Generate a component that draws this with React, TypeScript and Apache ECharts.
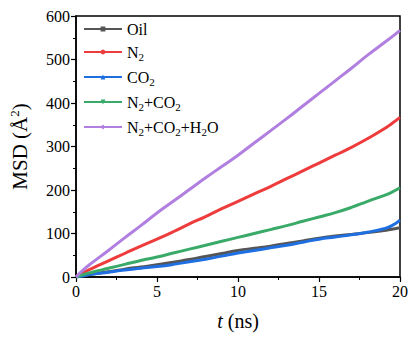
import React, { useEffect, useRef } from "react";
import * as echarts from "echarts";

const times = [0, 0.5, 1, 2, 3, 4, 5, 6, 7, 8, 9, 10, 11, 12, 13, 14, 15, 16, 17, 18, 19, 19.5, 20];
const oil = [0, 4, 7, 12, 18, 23, 28, 34, 40, 47, 54, 61, 66, 71, 77, 83, 89, 94, 98, 102, 107, 110, 113];
const n2 = [0, 11, 20, 37, 54, 71, 87, 104, 122, 139, 157, 174, 191, 208, 226, 244, 262, 280, 298, 318, 340, 353, 367];
const co2 = [0, 3, 6, 11, 16, 20, 24, 29, 35, 41, 48, 55, 61, 67, 73, 80, 87, 92, 97, 103, 111, 118, 131];
const n2co2 = [0, 6, 11, 20, 29, 38, 46, 55, 64, 73, 82, 91, 100, 109, 118, 128, 138, 148, 160, 174, 187, 195, 205];
const n2co2h2o = [0, 18, 33, 61, 90, 118, 147, 174, 201, 228, 254, 280, 308, 336, 364, 393, 422, 451, 480, 510, 538, 552, 567];

const seriesNames = ["Oil", "N2", "CO2", "N2+CO2", "N2+CO2+H2O"];
const legendLabels = ["Oil", "N{s|2}", "CO{s|2}", "N{s|2}+CO{s|2}", "N{s|2}+CO{s|2}+H{s|2}O"];
const colors = ["#555555", "#ee3b3b", "#1f6fe0", "#3aaa68", "#b07fe0"];
const symbols = ["rect", "circle", "triangle", "path://M0,0 L10,0 L5,10 Z", "diamond"];
const xTicks = [0, 5, 10, 15, 20];
const yTicks = [0, 100, 200, 300, 400, 500, 600];

const FONT = "Liberation Serif";

export default function App() {
  const ref = useRef<HTMLDivElement>(null);
  useEffect(() => {
    const chart = echarts.init(ref.current!, null, { renderer: "svg" });
    const allData = [oil, n2, co2, n2co2, n2co2h2o];
    chart.setOption({
      animation: false,
      backgroundColor: "#ffffff",
      textStyle: { fontFamily: FONT },
      grid: { left: 75, right: 18, top: 16, bottom: 67, show: true, borderColor: "#000", borderWidth: 1.5 },
      legend: {
        orient: "vertical",
        left: 78,
        top: 16,
        itemWidth: 38,
        itemHeight: 6,
        itemGap: 7,
        data: seriesNames,
        formatter: (name: string) => legendLabels[seriesNames.indexOf(name)],
        textStyle: {
          fontFamily: FONT,
          fontSize: 16,
          color: "#000",
          rich: {
            s: { fontFamily: FONT, fontSize: 11, verticalAlign: "bottom", padding: [9, 0, 0, 0], color: "#000" },
          },
        },
      },
      xAxis: {
        type: "value",
        min: 0,
        max: 20,
        interval: 5,
        name: "{i|t} (ns)",
        nameLocation: "middle",
        nameGap: 34,
        nameTextStyle: {
          fontFamily: FONT,
          fontSize: 20,
          color: "#000",
          rich: { i: { fontFamily: FONT, fontSize: 20, fontStyle: "italic", color: "#000" } },
        },
        axisLine: { show: true, lineStyle: { color: "#000", width: 1.5 } },
        axisTick: { show: true, inside: false, length: 5, lineStyle: { color: "#000", width: 1.2 } },
        minorTick: { show: true, splitNumber: 2, length: 3, lineStyle: { color: "#000", width: 1 } },
        axisLabel: { fontFamily: FONT, fontSize: 16, color: "#000", margin: 6,
          formatter: (v: number) => (xTicks.includes(v) ? String(v) : "") },
        splitLine: { show: false },
      },
      yAxis: {
        type: "value",
        min: 0,
        max: 600,
        interval: 100,
        name: "MSD (Å{sup|2})",
        nameLocation: "middle",
        nameRotate: 90,
        nameGap: 45,
        nameTextStyle: {
          fontFamily: FONT,
          fontSize: 21,
          color: "#000",
          rich: { sup: { fontFamily: FONT, fontSize: 13, verticalAlign: "top", padding: [0, 0, 10, 0], color: "#000" } },
        },
        axisLine: { show: true, lineStyle: { color: "#000", width: 1.5 } },
        axisTick: { show: true, inside: false, length: 5, lineStyle: { color: "#000", width: 1.2 } },
        minorTick: { show: true, splitNumber: 2, length: 3, lineStyle: { color: "#000", width: 1 } },
        axisLabel: { fontFamily: FONT, fontSize: 16, color: "#000", margin: 6,
          formatter: (v: number) => (yTicks.includes(v) ? String(v) : "") },
        splitLine: { show: false },
      },
      series: seriesNames.map((name, i) => ({
        name,
        type: "line",
        data: times.map((t, j) => [t, allData[i][j]]),
        smooth: true,
        showSymbol: false,
        symbol: symbols[i],
        symbolSize: 5,
        lineStyle: { color: colors[i], width: 3 },
        itemStyle: { color: colors[i] },
      })),
    });
    return () => chart.dispose();
  }, []);
  return <div ref={ref} style={{ width: 418, height: 344, margin: -8 }} />;
}
